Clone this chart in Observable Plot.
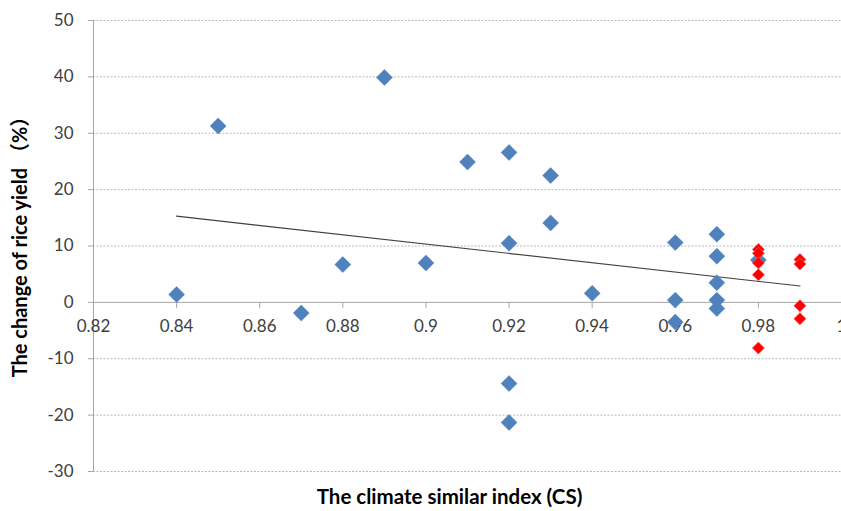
<!DOCTYPE html>
<html>
<head>
<meta charset="utf-8">
<script src="https://cdn.jsdelivr.net/npm/d3@7"></script>
<script src="https://cdn.jsdelivr.net/npm/@observablehq/plot@0.6"></script>
<style>
  html, body { margin: 0; padding: 0; background: #fff; overflow: hidden; }
  #chart { width: 841px; height: 511px; }
</style>
</head>
<body>
<div id="chart"></div>
<script>
// Blue series (all regions)
const blueX = [0.84, 0.85, 0.87, 0.88, 0.89, 0.90, 0.91, 0.92, 0.92, 0.92, 0.92, 0.93, 0.93, 0.94, 0.96, 0.96, 0.96, 0.97, 0.97, 0.97, 0.97, 0.97, 0.98];
const blueY = [1.4, 31.3, -1.9, 6.7, 39.9, 7.0, 24.9, 26.6, 10.5, -14.4, -21.3, 22.5, 14.1, 1.6, 10.6, 0.4, -3.5, 12.1, 8.2, 3.5, 0.4, -1.1, 7.5];
// Red series
const redX = [0.98, 0.98, 0.98, 0.98, 0.98, 0.99, 0.99, 0.99, 0.99];
const redY = [9.4, 8.7, 7.0, 4.9, -8.1, 7.6, 6.8, -0.6, -2.9];
// Trend line endpoints
const trendX = [0.84, 0.99];
const trendY = [15.3, 2.9];
// Tick labels
const xTicks = [0.82, 0.84, 0.86, 0.88, 0.90, 0.92, 0.94, 0.96, 0.98, 1.0];
const xTickLabels = ["0.82", "0.84", "0.86", "0.88", "0.9", "0.92", "0.94", "0.96", "0.98", "1"];
const yTicks = [-30, -20, -10, 0, 10, 20, 30, 40, 50];
const xTitle = "The climate similar index (CS)";
const yTitle = "The change of rice yield （%）";

const blue = blueX.map((x, i) => ({x, y: blueY[i]}));
const red = redX.map((x, i) => ({x, y: redY[i]}));
const trend = trendX.map((x, i) => ({x, y: trendY[i]}));
const xt = xTicks.map((v, i) => ({v, label: xTickLabels[i]}));

const axisGray = "#a6a6a6";
const plot = Plot.plot({
  width: 841,
  height: 511,
  marginLeft: 93,
  marginRight: 0,
  marginTop: 20,
  marginBottom: 40,
  style: {fontFamily: "Lato, 'Noto Sans CJK SC', sans-serif", background: "#fff", overflow: "visible"},
  x: {domain: [0.82, 1.0], axis: null},
  y: {domain: [-30, 50], axis: null},
  marks: [
    Plot.ruleY(yTicks.filter(d => d !== 0), {stroke: "#b8b8b8", strokeDasharray: "2,1.5", strokeWidth: 1}),
    Plot.ruleX([0.82], {stroke: axisGray, strokeWidth: 1}),
    Plot.ruleY([0], {stroke: axisGray, strokeWidth: 1}),
    Plot.axisY({ticks: yTicks, label: null, tickSize: 5, tickPadding: 15, stroke: axisGray, fontSize: 17, color: "#404040", tickFormat: d => String(d)}),
    Plot.ruleX(xTicks, {y1: 0, y2: -1.1, stroke: axisGray}),
    Plot.text(xt, {x: "v", y: 0, text: "label", dy: 24, lineAnchor: "middle", fontSize: 17, fill: "#404040"}),
    Plot.line(trend, {x: "x", y: "y", stroke: "#404040", strokeWidth: 1.2}),
    Plot.dot(blue, {x: "x", y: "y", symbol: "diamond2", r: 7.2, fill: "#4f81bd", stroke: "#4f81bd", strokeWidth: 0.5}),
    Plot.dot(red, {x: "x", y: "y", symbol: "diamond2", r: 5.4, fill: "#ff0000", stroke: "#ff5050", strokeWidth: 0.8}),
    Plot.text([xTitle], {frameAnchor: "bottom", textAnchor: "middle", dx: -18, dy: 26, lineAnchor: "middle", fontSize: 20.5, fontWeight: "bold", fill: "#000"}),
    Plot.text([yTitle], {frameAnchor: "left", textAnchor: "middle", rotate: -90, dx: -73, dy: -4, lineAnchor: "middle", fontSize: 20, fontWeight: "bold", fill: "#000"})
  ]
});
document.getElementById("chart").appendChild(plot);
</script>
</body>
</html>
